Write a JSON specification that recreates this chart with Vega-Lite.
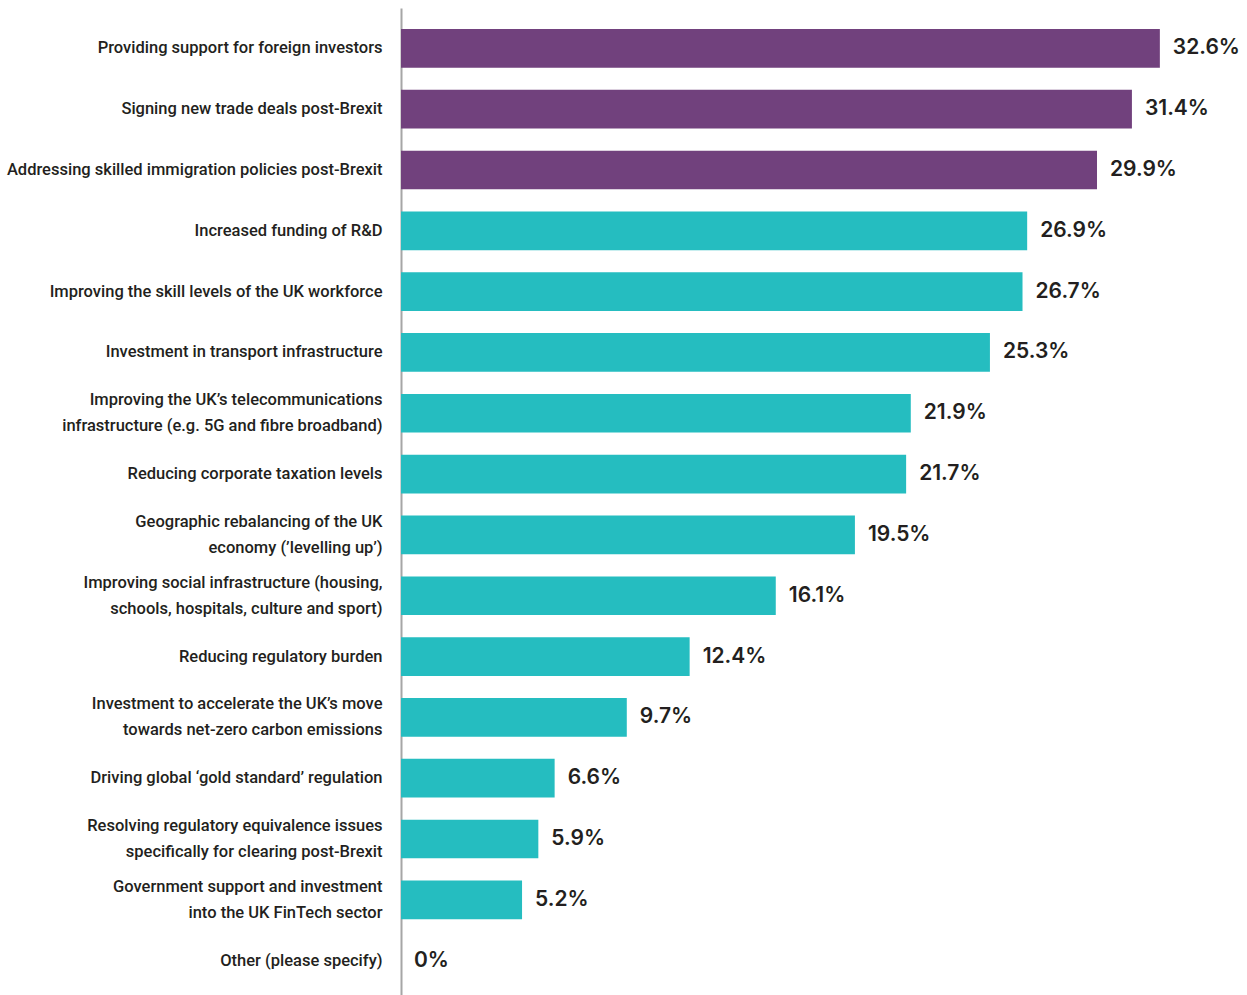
{
  "$schema": "https://vega.github.io/schema/vega-lite/v6.json",
  "autosize": {"type": "none"},
  "padding": {"left": 401, "top": 8, "right": 8, "bottom": 0},
  "width": 838,
  "height": 993,
  "background": "white",
  "config": {"view": {"stroke": null}},
  "data": {"values": [
    {"item": "Providing support for foreign investors", "value": 0.326, "group": "top"},
    {"item": "Signing new trade deals post-Brexit", "value": 0.314, "group": "top"},
    {"item": "Addressing skilled immigration policies post-Brexit", "value": 0.299, "group": "top"},
    {"item": "Increased funding of R&D", "value": 0.269, "group": "rest"},
    {"item": "Improving the skill levels of the UK workforce", "value": 0.267, "group": "rest"},
    {"item": "Investment in transport infrastructure", "value": 0.253, "group": "rest"},
    {"item": "Improving the UK’s telecommunications|infrastructure (e.g. 5G and fibre broadband)", "value": 0.219, "group": "rest"},
    {"item": "Reducing corporate taxation levels", "value": 0.217, "group": "rest"},
    {"item": "Geographic rebalancing of the UK|economy (’levelling up’)", "value": 0.195, "group": "rest"},
    {"item": "Improving social infrastructure (housing,|schools, hospitals, culture and sport)", "value": 0.161, "group": "rest"},
    {"item": "Reducing regulatory burden", "value": 0.124, "group": "rest"},
    {"item": "Investment to accelerate the UK’s move|towards net-zero carbon emissions", "value": 0.097, "group": "rest"},
    {"item": "Driving global ‘gold standard’ regulation", "value": 0.066, "group": "rest"},
    {"item": "Resolving regulatory equivalence issues|specifically for clearing post-Brexit", "value": 0.059, "group": "rest"},
    {"item": "Government support and investment|into the UK FinTech sector", "value": 0.052, "group": "rest"},
    {"item": "Other (please specify)", "value": 0, "group": "rest"}
  ]},
  "encoding": {
    "y": {
      "field": "item", "type": "nominal", "sort": null,
      "scale": {"paddingInner": 0.364, "paddingOuter": 0.345},
      "axis": {
        "title": null, "ticks": false, "domainColor": "#a6a6a6", "domainWidth": 2,
        "labelExpr": "split(datum.value, '|')",
        "labelFont": "Roboto", "labelFontWeight": 500,
        "labelFontSize": 16.5, "labelColor": "#231f20", "labelPadding": 19,
        "labelLineHeight": 26, "labelLimit": 0,
        "labelOffset": {"condition": {"test": "indexof(datum.value, '|') >= 0", "value": -13}, "value": 0}
      }
    },
    "x": {
      "field": "value", "type": "quantitative",
      "scale": {"domain": [0, 0.36], "nice": false},
      "axis": null
    }
  },
  "layer": [
    {
      "mark": {"type": "bar"},
      "encoding": {
        "color": {
          "field": "group", "type": "nominal",
          "scale": {"domain": ["top", "rest"], "range": ["#71417d", "#25bdc0"]},
          "legend": null
        }
      }
    },
    {
      "mark": {"type": "text", "align": "left", "baseline": "middle", "dx": 13,
        "font": "Inter", "fontWeight": 600, "fontSize": 21, "color": "#231f20"},
      "encoding": {
        "text": {"field": "value", "type": "quantitative", "format": ".1~%"}
      }
    }
  ]
}
